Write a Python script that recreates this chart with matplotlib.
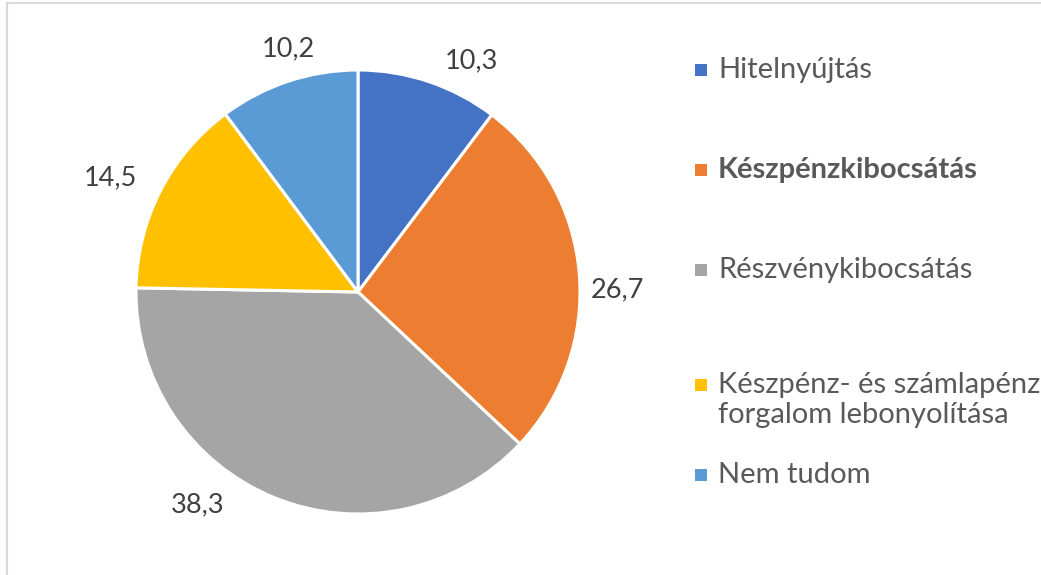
import matplotlib
matplotlib.use("Agg")
import matplotlib.pyplot as plt
from matplotlib.patches import Rectangle
import numpy as np

# ---- data ----
categories = ["Hitelnyújtás", "Készpénzkibocsátás", "Részvénykibocsátás",
              "Készpénz- és számlapénz\nforgalom lebonyolítása", "Nem tudom"]
values = [10.3, 26.7, 38.3, 14.5, 10.2]
value_labels = ["10,3", "26,7", "38,3", "14,5", "10,2"]

# ---- style / layout ----
colors = ["#4472C4", "#ED7D31", "#A5A5A5", "#FFC000", "#5B9BD5"]
bold_flags = [False, True, False, False, False]
label_place = [(63.8, 1.16), (0.4, 1.17), (233.0, 1.20), (155.3, 1.23), (106.0, 1.14)]  # (angle deg, radius)
legend_y_px = [70, 170, 270, 400, 475]
FONT = "Lato"
FS_LAB = 19.5
FS_LEG = 21

W, H = 1041, 575
fig = plt.figure(figsize=(W / 100, H / 100), dpi=100)
fig.patch.set_facecolor("white")

# border (only left/top visible)
fig.add_artist(Rectangle((7 / W, -0.1), 1.2, (H - 3) / H + 0.1, transform=fig.transFigure,
                         fill=False, edgecolor="#D9D9D9", linewidth=1.5))

cx, cy, R = 358, H - 292, 222
half = 300
ax = fig.add_axes([(cx - half) / W, (cy - half) / H, 2 * half / W, 2 * half / H])

ax.pie(values, colors=colors, startangle=90, counterclock=False, radius=1,
       wedgeprops=dict(edgecolor="white", linewidth=2.2))
lim = half / R
ax.set_xlim(-lim, lim)
ax.set_ylim(-lim, lim)
ax.set_aspect("equal")
ax.axis("off")

for txt, (ang, r) in zip(value_labels, label_place):
    a = np.deg2rad(ang)
    ax.text(r * np.cos(a), r * np.sin(a), txt, ha="center", va="center",
            fontsize=FS_LAB, family=FONT, color="#404040")

# legend
for cat, col, yb, b in zip(categories, colors, legend_y_px, bold_flags):
    lines = cat.count("\n") + 1
    ytop_first = yb - (lines - 1) * 15
    fig.add_artist(Rectangle((695 / W, 1 - (ytop_first + 6) / H), 12 / W, 12 / H,
                             transform=fig.transFigure, facecolor=col, edgecolor="none"))
    fig.text(718 / W, 1 - yb / H, cat, ha="left", va="center", fontsize=FS_LEG, family=FONT,
             color="#595959", fontweight="bold" if b else "normal", linespacing=1.2)

fig.savefig("out.png", dpi=100, facecolor="white")
